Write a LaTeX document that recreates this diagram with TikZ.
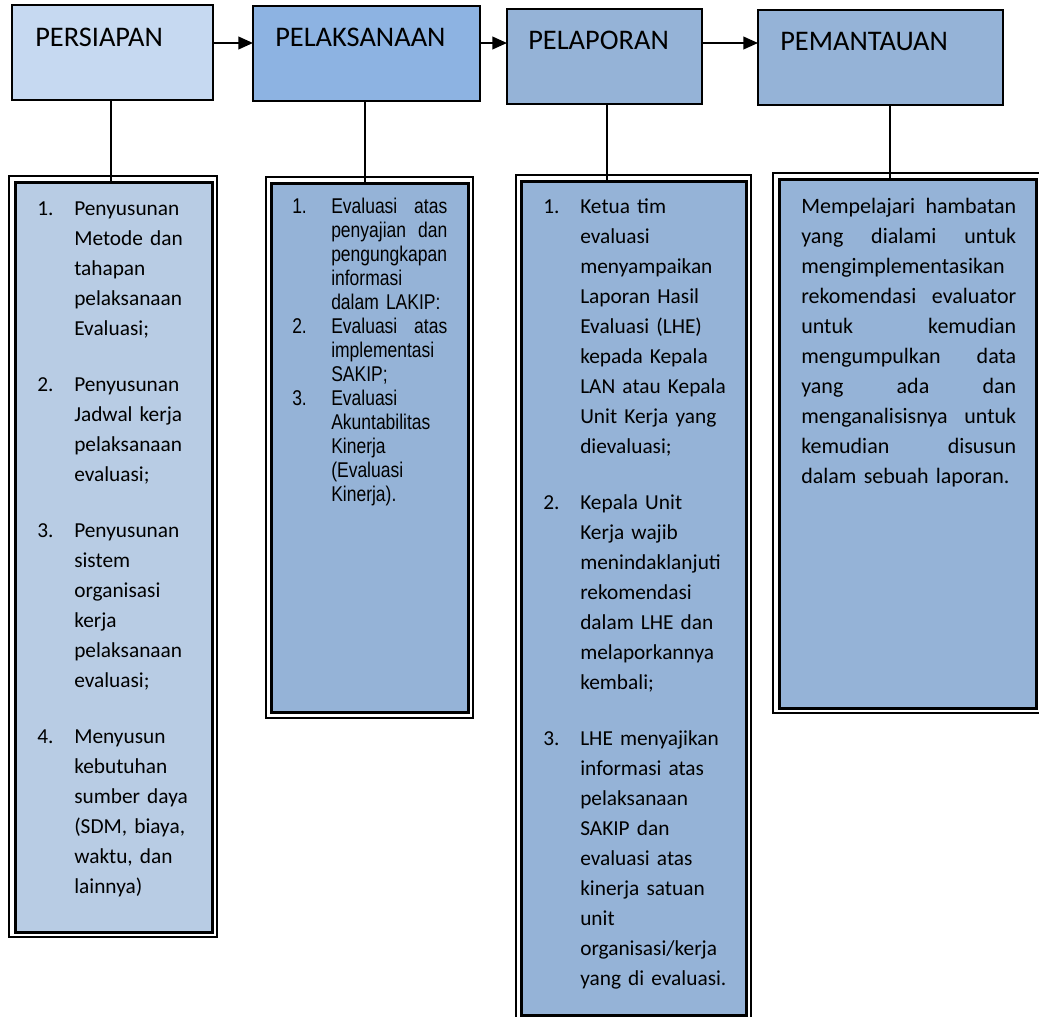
\documentclass[tikz,border=0pt]{standalone}
\usepackage{fontspec}
\setmainfont{Carlito}
\newfontfamily\arialn[FakeStretch=0.82]{Liberation Sans}
\usetikzlibrary{arrows.meta}
\definecolor{hA}{HTML}{C6D9F1}
\definecolor{hB}{HTML}{8DB3E2}
\definecolor{hC}{HTML}{95B3D7}
\definecolor{bA}{HTML}{B8CCE4}
\newcommand\jl[2]{\makebox[#1][l]{#2}}
\begin{document}
\begin{tikzpicture}[x=0.75pt,y=-0.75pt,
  hdr/.style={draw=black, line width=1.5pt, inner sep=0pt, outer sep=0pt, minimum height=71.25pt},
  frameo/.style={draw=black, line width=1.5pt, fill=white, inner sep=0pt, outer sep=0pt},
  framei/.style={draw=black, line width=2.25pt, inner sep=0pt, outer sep=0pt},
  htxt/.style={anchor=west, inner sep=0pt, font=\fontsize{21.3}{25}\selectfont},
  btxt/.style={anchor=north west, inner sep=0pt, align=left, font=\fontsize{16}{22.5}\selectfont},
  dtxt/.style={anchor=north west, inner sep=0pt, align=left, font=\fontsize{16.5}{22.5}\selectfont},
  atxt/.style={anchor=north west, inner sep=0pt, align=left, font=\arialn\fontsize{16}{18}\selectfont},
  conn/.style={line width=1.5pt},
  arr/.style={line width=1.5pt, -{Triangle[length=11pt,width=9.5pt]}}]
\useasboundingbox (0,0) rectangle (1039,1017);
\fill[white] (0,0) rectangle (1039,1017);

% header boxes
\node[hdr, fill=hA, minimum width=150.75pt] (h1) at (112.5,52.5) {};
\node[hdr, fill=hB, minimum width=170.25pt] (h2) at (366.5,53.5) {};
\node[hdr, fill=hC, minimum width=146.25pt] (h3) at (604.5,56.5) {};
\node[hdr, fill=hC, minimum width=183.75pt] (h4) at (880.5,57.5) {};
\node[htxt] (h1t) at (35,37) {PERSIAPAN};
\node[htxt] (h2t) at (275,37) {PELAKSANAAN};
\node[htxt] (h3t) at (528,40) {PELAPORAN};
\node[htxt] (h4t) at (780,41) {PEMANTAUAN};

% arrows
\coordinate (a1) at ([yshift=7.125pt]h1.east);
\coordinate (a2) at ([yshift=7.875pt]h2.east);
\coordinate (a3) at ([yshift=10.125pt]h3.east);
\draw[arr] (a1) -- (a1 -| h2.west);
\draw[arr] (a2) -- (a2 -| h3.west);
\draw[arr] (a3) -- (a3 -| h4.west);

% detail boxes
\node[frameo, minimum width=156pt, minimum height=570.75pt] (b1o) at (113,556.5) {};
\node[framei, fill=bA, minimum width=147.75pt, minimum height=562.5pt] (b1) at (113.5,557) {};
\node[frameo, minimum width=155.25pt, minimum height=405.75pt] (b2o) at (369.5,447.5) {};
\node[framei, fill=hC, minimum width=147.75pt, minimum height=396.75pt] (b2) at (369.5,447.5) {};
\node[frameo, minimum width=176.25pt, minimum height=634.5pt] (b3o) at (633.5,598) {};
\node[framei, fill=hC, minimum width=168.75pt, minimum height=625.5pt] (b3) at (633.5,598) {};
\node[frameo, minimum width=201.75pt, minimum height=405pt] (b4o) at (907.5,443) {};
\node[framei, fill=hC, minimum width=192.75pt, minimum height=396.75pt] (b4) at (907.5,443.5) {};

% vertical connectors
\coordinate (c1) at ([xshift=-1.125pt]h1.south);
\coordinate (c2) at ([xshift=-1.125pt]h2.south);
\coordinate (c3) at ([xshift=1.875pt]h3.south);
\coordinate (c4) at ([xshift=7.125pt]h4.south);
\draw[conn] (c1) -- (c1 |- b1.north);
\draw[conn] (c2) -- (c2 |- b2.north);
\draw[conn] (c3) -- (c3 |- b3.north);
\draw[conn] (c4) -- (c4 |- b4.north);

% box 1 text
\node[btxt] (n1a) at (37,194) {\strut 1.};
\node[btxt, text width=110pt] (t1a) at (74,194) {\strut Penyusunan\\Metode dan\\tahapan\\pelaksanaan\\Evaluasi;};
\node[btxt] (n1b) at (37,370) {\strut 2.};
\node[btxt, text width=110pt] (t1b) at (74,370) {\strut Penyusunan\\Jadwal kerja\\pelaksanaan\\evaluasi;};
\node[btxt] (n1c) at (37,516) {\strut 3.};
\node[btxt, text width=110pt] (t1c) at (74,516) {\strut Penyusunan\\sistem\\organisasi\\kerja\\pelaksanaan\\evaluasi;};
\node[btxt] (n1d) at (37,722) {\strut 4.};
\node[btxt, text width=110pt] (t1d) at (74,722) {\strut Menyusun\\kebutuhan\\sumber daya\\(SDM, biaya,\\waktu, dan\\lainnya)};

% box 2 text
\node[atxt] (n2a) at (292,196.2) {\strut 1.};
\node[atxt, text width=87pt] (t2a) at (331,196.2) {\strut\jl{87pt}{Evaluasi\hfill atas}\\\jl{87pt}{penyajian\hfill dan}\\pengungkapan\\informasi\\dalam LAKIP:};
\node[atxt] (n2b) at (292,316.2) {\strut 2.};
\node[atxt, text width=87pt] (t2b) at (331,316.2) {\strut\jl{87pt}{Evaluasi\hfill atas}\\implementasi\\SAKIP;};
\node[atxt] (n2c) at (292,388.2) {\strut 3.};
\node[atxt, text width=87pt] (t2c) at (331,388.2) {\strut Evaluasi\\Akuntabilitas\\Kinerja\\(Evaluasi\\Kinerja).};

% box 3 text
\node[btxt] (n3a) at (543,192) {\strut 1.};
\node[btxt, text width=118pt] (t3a) at (580,192) {\strut Ketua tim\\evaluasi\\menyampaikan\\Laporan Hasil\\Evaluasi (LHE)\\kepada Kepala\\LAN atau Kepala\\Unit Kerja yang\\dievaluasi;};
\node[btxt] (n3b) at (543,488) {\strut 2.};
\node[btxt, text width=118pt] (t3b) at (580,488) {\strut Kepala Unit\\Kerja wajib\\menindaklanjuti\\rekomendasi\\dalam LHE dan\\melaporkannya\\kembali;};
\node[btxt] (n3c) at (543,724) {\strut 3.};
\node[btxt, text width=118pt] (t3c) at (580,724) {\strut LHE menyajikan\\informasi atas\\pelaksanaan\\SAKIP dan\\evaluasi atas\\kinerja satuan\\unit\\organisasi/kerja\\yang di evaluasi.};

% box 4 text
\node[dtxt, text width=161.25pt] (t4) at (801,192) {\strut\jl{161.25pt}{Mempelajari\hfill hambatan}\\\jl{161.25pt}{yang\hfill dialami\hfill untuk}\\mengimplementasikan\\\jl{161.25pt}{rekomendasi\hfill evaluator}\\\jl{161.25pt}{untuk\hfill kemudian}\\\jl{161.25pt}{mengumpulkan\hfill data}\\\jl{161.25pt}{yang\hfill ada\hfill dan}\\\jl{161.25pt}{menganalisisnya\hfill untuk}\\\jl{161.25pt}{kemudian\hfill disusun}\\dalam sebuah laporan.};
\end{tikzpicture}
\end{document}
